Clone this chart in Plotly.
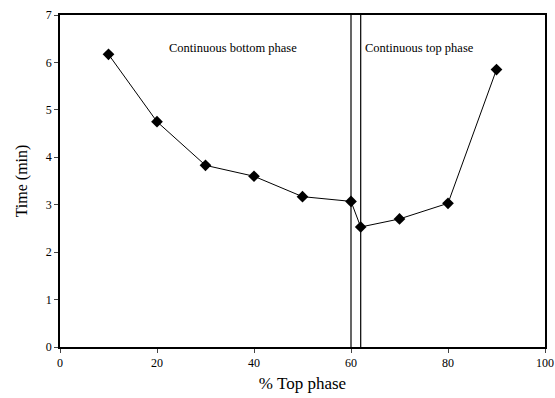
import plotly.graph_objects as go

top_phase_pct = [10, 20, 30, 40, 50, 60, 62, 70, 80, 90]
time_min = [6.17, 4.75, 3.83, 3.6, 3.17, 3.07, 2.53, 2.7, 3.03, 5.85]
boundary_x = [60, 62]
x_ticks = [0, 20, 40, 60, 80, 100]
y_ticks = [0, 1, 2, 3, 4, 5, 6, 7]

font = "Liberation Serif, Times New Roman, serif"

fig = go.Figure()
for bx in boundary_x:
    fig.add_trace(go.Scatter(x=[bx, bx], y=[0, 7], mode="lines",
                             line=dict(color="black", width=1.2),
                             showlegend=False, hoverinfo="skip"))
fig.add_trace(go.Scatter(x=top_phase_pct, y=time_min, mode="lines+markers",
                         line=dict(color="black", width=1),
                         marker=dict(symbol="diamond", size=9, color="black"),
                         showlegend=False))

fig.add_annotation(x=22, y=6.3, text="Continuous bottom phase", showarrow=False,
                   xanchor="left", yanchor="middle", font=dict(family=font, size=12.5, color="black"))
fig.add_annotation(x=62.4, y=6.3, text="Continuous top phase", showarrow=False,
                   xanchor="left", yanchor="middle", font=dict(family=font, size=12.5, color="black"))

fig.update_layout(
    width=555, height=398,
    margin=dict(l=60, r=10, t=15, b=51, autoexpand=False),
    paper_bgcolor="white", plot_bgcolor="white",
    font=dict(family=font, color="black", size=12),
    xaxis=dict(range=[0, 100], tickvals=x_ticks, ticks="outside", ticklen=4,
               showline=True, linecolor="black", linewidth=1.5, mirror=True,
               showgrid=False, zeroline=False, automargin=False,
               title=dict(text="% Top phase", font=dict(size=17), standoff=8)),
    yaxis=dict(range=[0, 7], tickvals=y_ticks, ticks="outside", ticklen=4,
               showline=True, linecolor="black", linewidth=1.5, mirror=True,
               showgrid=False, zeroline=False, automargin=False,
               title=dict(text="Time (min)", font=dict(size=16), standoff=14)),
)
fig.write_html("out.html")
